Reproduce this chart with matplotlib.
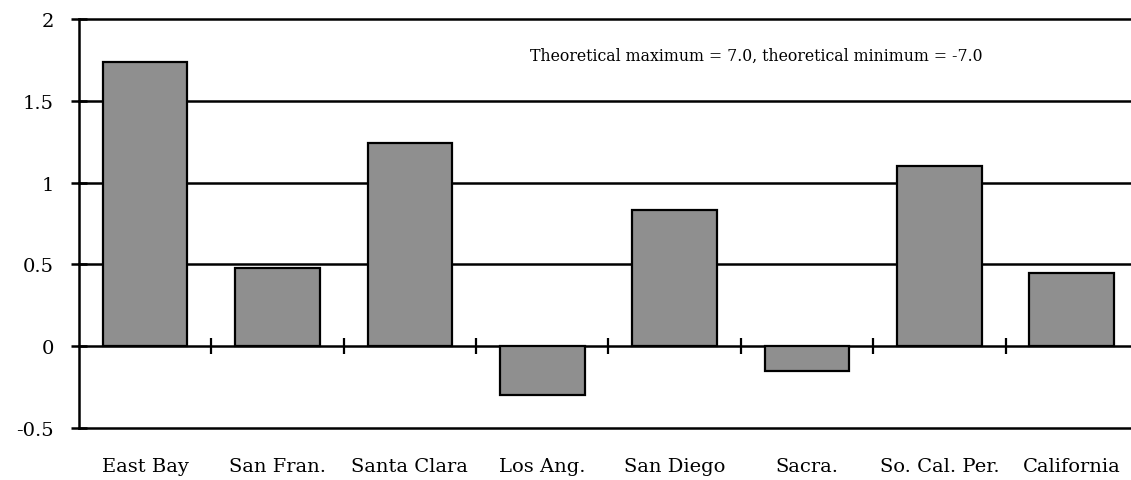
import numpy as np
import matplotlib
matplotlib.use("Agg")
import matplotlib.pyplot as plt

# regional index scores
regions = ["East Bay", "San Fran.", "Santa Clara", "Los Ang.", "San Diego",
           "Sacra.", "So. Cal. Per.", "California"]
scores = [1.74, 0.48, 1.24, -0.30, 0.83, -0.15, 1.10, 0.45]
yticks = [-0.5, 0, 0.5, 1, 1.5, 2]
ytick_labels = ["-0.5", "0", "0.5", "1", "1.5", "2"]
note = "Theoretical maximum = 7.0, theoretical minimum = -7.0"

plt.rcParams['font.family'] = ['DejaVu Serif', 'Liberation Serif']

fig = plt.figure(figsize=(11.31, 4.81), dpi=100)
ax = fig.add_axes([0.0698, 0.1081, 0.9363, 0.8503])

x = np.arange(len(regions))
ax.set_xlim(-0.5, len(regions) - 0.5)
ax.set_ylim(-0.5, 2)

# horizontal rules at every tick, drawn behind the bars
for yv in yticks:
    ax.axhline(yv, color="black", lw=1.8, zorder=1, clip_on=False)

ax.bar(x, scores, width=0.64, color="#8f8f8f", edgecolor="black",
       linewidth=1.6, zorder=3)

# category separators on the zero line
bounds = x[:-1] + 0.5
ax.plot(bounds, np.zeros_like(bounds), linestyle="none", marker="|",
        markersize=12, markeredgewidth=1.6, color="black", zorder=4)

for side in ["top", "right", "bottom"]:
    ax.spines[side].set_visible(False)
ax.spines["left"].set_linewidth(1.8)

ax.set_yticks(yticks)
ax.set_yticklabels(ytick_labels)
ax.tick_params(axis="y", direction="inout", length=12, width=1.8,
               labelsize=14, pad=12)
ax.set_xticks(x)
ax.set_xticklabels(regions)
ax.tick_params(axis="x", length=0, labelsize=14, pad=21)

ax.text(4.62, 1.78, note, ha="center", va="center", fontsize=11.3)

fig.savefig("out.png", dpi=100)
